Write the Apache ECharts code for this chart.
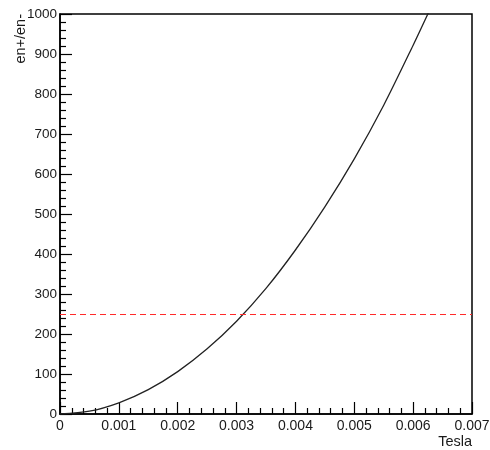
<!DOCTYPE html>
<html>
<head>
<meta charset="utf-8">
<script src="https://cdn.jsdelivr.net/npm/echarts@6/dist/echarts.min.js"></script>
<style>
  html, body { margin: 0; padding: 0; background: #fff; }
  #chart { width: 490px; height: 450px; }
</style>
</head>
<body>
<div id="chart"></div>
<script>
// curve
var teslaVals = [0, 0.0005, 0.001, 0.0015, 0.002, 0.0025, 0.003, 0.0035, 0.004, 0.0045, 0.005, 0.0055, 0.006, 0.0063];
var ratioVals = [0, 7, 28, 61, 106, 163, 232, 314, 410, 518, 638, 772, 922, 1016];
// threshold line
var thresholdVal = 250;
// tick labels
var xTickLabels = ['0', '0.001', '0.002', '0.003', '0.004', '0.005', '0.006', '0.007'];
var yTickLabels = ['0', '100', '200', '300', '400', '500', '600', '700', '800', '900', '1000'];

var FONT = 'Liberation Sans, Arial, sans-serif';
var TEXT = '#1a1a1a';

var points = [];
for (var i = 0; i < teslaVals.length; i++) {
    points.push([teslaVals[i], ratioVals[i]]);
}

var chart = echarts.init(document.getElementById('chart'), null, { renderer: 'canvas' });
chart.setOption({
    backgroundColor: '#fff',
    animation: false,
    grid: {
        left: 60,
        right: 18,
        top: 14,
        bottom: 36,
        outerBoundsMode: 'none',
        show: true,
        borderColor: '#000',
        borderWidth: 1.5,
        backgroundColor: 'transparent'
    },
    xAxis: {
        type: 'value',
        min: 0,
        max: 0.007,
        interval: 0.001,
        axisLine: { show: true, onZero: false, lineStyle: { color: '#000', width: 1.5 } },
        axisTick: { show: true, inside: true, length: 12, lineStyle: { color: '#000', width: 1.2 } },
        minorTick: { show: true, splitNumber: 5, length: 6, lineStyle: { color: '#000', width: 1.2 } },
        splitLine: { show: false },
        axisLabel: {
            margin: 5,
            color: TEXT,
            fontFamily: FONT,
            fontSize: 14,
            formatter: function (v) {
                return xTickLabels[Math.round(v / 0.001)];
            }
        }
    },
    yAxis: {
        type: 'value',
        min: 0,
        max: 1000,
        interval: 100,
        axisLine: { show: true, onZero: false, lineStyle: { color: '#000', width: 1.5 } },
        axisTick: { show: true, inside: true, length: 12, lineStyle: { color: '#000', width: 1.2 } },
        minorTick: { show: true, splitNumber: 5, length: 6, lineStyle: { color: '#000', width: 1.2 } },
        splitLine: { show: false },
        axisLabel: {
            margin: 3,
            color: TEXT,
            fontFamily: FONT,
            fontSize: 13.5,
            formatter: function (v) {
                return yTickLabels[Math.round(v / 100)];
            }
        }
    },
    graphic: [
        {
            type: 'text',
            x: 21,
            y: 14,
            rotation: Math.PI / 2,
            style: {
                text: 'en+/en-',
                fill: TEXT,
                font: '14.5px ' + FONT,
                align: 'right',
                verticalAlign: 'middle'
            }
        },
        {
            type: 'text',
            x: 472,
            y: 442,
            style: {
                text: 'Tesla',
                fill: TEXT,
                font: '14.5px ' + FONT,
                align: 'right',
                verticalAlign: 'middle'
            }
        }
    ],
    series: [
        {
            type: 'line',
            data: points,
            smooth: 0.3,
            showSymbol: false,
            clip: true,
            lineStyle: { color: '#222', width: 1.3 },
            markLine: {
                silent: true,
                symbol: ['none', 'none'],
                label: { show: false },
                lineStyle: { color: '#ff2a2a', width: 1.2, type: [6, 4] },
                data: [{ yAxis: thresholdVal }]
            }
        }
    ]
});
</script>
</body>
</html>
